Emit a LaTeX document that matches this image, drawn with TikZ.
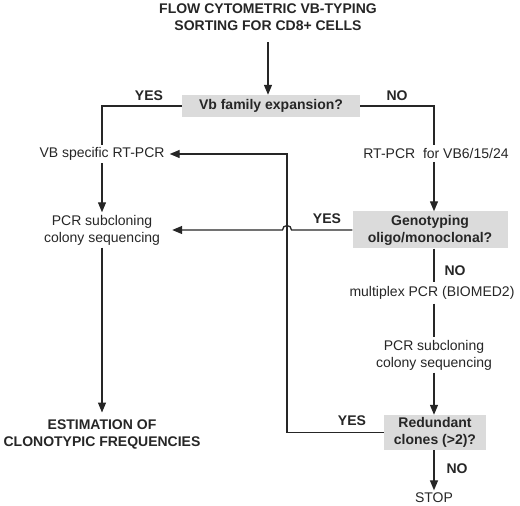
\documentclass[tikz,border=0pt]{standalone}
\usepackage{fontspec}
\setmainfont{Liberation Sans}
\usetikzlibrary{arrows.meta}
\definecolor{boxgray}{HTML}{DBDBDB}
\definecolor{ink}{HTML}{262626}
\begin{document}
\begin{tikzpicture}[x=1pt,y=1pt,
  every node/.style={font=\fontsize{14}{17}\selectfont, text=ink, align=center, inner sep=2.5pt},
  bold/.style={font=\fontsize{14}{17}\selectfont\bfseries},
  qbox/.style={bold, fill=boxgray, inner sep=0pt},
  conn/.style={draw=ink, line width=1.3pt},
  arr/.style={conn, -{Triangle[length=10pt,width=8pt]}}]
\useasboundingbox (0,0) rectangle (520,506);

% nodes
\node[bold] (title) at (268,489) {FLOW CYTOMETRIC VB-TYPING\\SORTING FOR CD8+ CELLS};
\node[qbox, minimum width=178pt, minimum height=22pt] (vb) at (271,400) {Vb family expansion?};
\node[inner xsep=5pt] (vbspec) at (102,352) {VB specific RT-PCR};
\node (rtpcr) at (436,352) {RT-PCR\ \ for VB6/15/24};
\node[qbox, minimum width=155pt, minimum height=37pt] (gen) at (430,276) {Genotyping\\oligo/monoclonal?};
\node[inner xsep=12pt] (psubL) at (102,276) {PCR subcloning\\colony sequencing};
\node[inner ysep=4pt] (mult) at (432,213) {multiplex PCR (BIOMED2)};
\node (psubR) at (434,151) {PCR subcloning\\colony sequencing};
\node[qbox, minimum width=102pt, minimum height=35pt] (red) at (435,73.5) {Redundant\\clones (>2)?};
\node (stop) at (434,8) {STOP};
\node[bold, inner ysep=7pt] (est) at (102,71.5) {ESTIMATION OF\\CLONOTYPIC FREQUENCIES};

% labels
\node[bold] (yes1) at (149,410) {YES};
\node[bold] (no1) at (397,410) {NO};
\node[bold] (yes2) at (327,287) {YES};
\node[bold] (no2) at (455,235) {NO};
\node[bold] (yes3) at (352,85) {YES};
\node[bold] (no3) at (457,37) {NO};

% helper coordinates
\coordinate (col) at (434,0);
\coordinate (loop) at (287,0);
\coordinate (jr) at (291.5,276);

% connectors
\draw[arr, shorten <=9pt] (title.south) -- (title.south |- vb.north);
\draw[conn] (vb.west) -| (vbspec.north);
\draw[conn] (vb.east) -| (vbspec.north -| col);
\draw[arr] (rtpcr.south -| col) -- (gen.north -| col);
\draw[arr] (vbspec.south) -- (psubL.north);
\draw[arr] (gen.west) -- (jr) arc[start angle=0, end angle=180, radius=4.5] -- (psubL.east);
\draw[conn] (gen.south -| col) -- (mult.north -| col);
\draw[conn] (mult.south -| col) -- (psubR.north -| col);
\draw[arr] (psubR.south -| col) -- (red.north -| col);
\draw[arr] (red.south -| col) -- (stop.north -| col);
\draw[arr] (psubL.south) -- (est.north);
\draw[arr] (red.west) -- (red.west -| loop) -- (vbspec.east -| loop) -- (vbspec.east);
\end{tikzpicture}
\end{document}
